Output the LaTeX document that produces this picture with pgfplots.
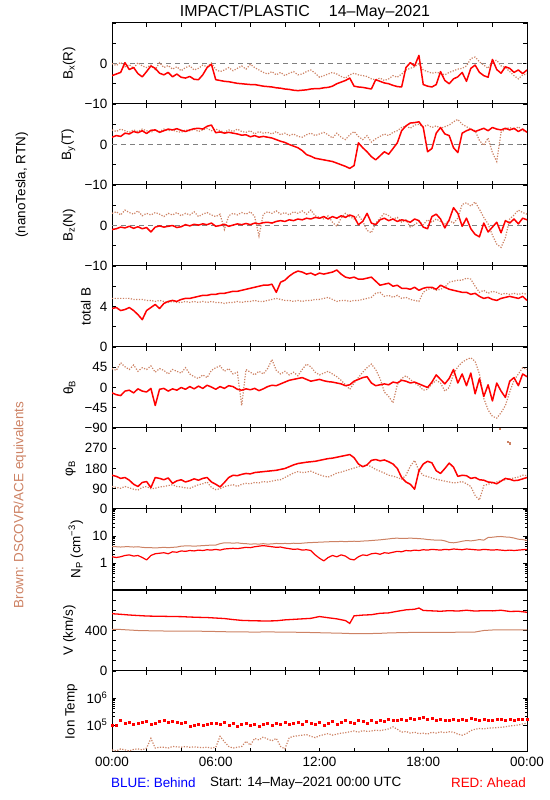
\documentclass[border=0pt]{standalone}
\usepackage{fontspec}
\setmainfont{Liberation Sans}
\usepackage{pgfplots}
\usepackage{pgfplotstable}
\pgfplotsset{compat=1.18}
\definecolor{brn}{RGB}{205,130,100}
\definecolor{rd}{RGB}{255,0,0}
\definecolor{zl}{RGB}{128,128,128}

% Bx(R): h, red (Ahead), brown (DSCOVR/ACE)
\pgfplotstableread{
h r b
0.00 -3.0 0.0
0.25 -2.6 -0.5
0.50 -2.2 0.3
0.75 0.2 -0.8
1.00 -1.5 -0.3
1.25 -1.0 -1.2
1.50 -2.5 0.2
1.75 -3.3 -0.6
2.00 -2.0 -1.0
2.25 -0.6 -0.4
2.50 -1.2 -1.5
2.75 -2.4 0.2
3.00 -2.8 -1.0
3.25 -2.2 -0.5
3.50 -3.3 -1.4
3.75 -2.6 -0.8
4.00 -3.4 -1.8
4.25 -3.6 -1.0
4.50 -3.2 -0.6
4.75 -3.9 -1.6
5.00 -4.0 -1.2
5.25 -2.8 -0.4
5.50 -1.0 -0.8
5.75 -0.2 0.1
6.00 -4.0 -1.5
6.25 -4.2 -2.0
6.50 -4.4 -1.6
6.75 -4.5 -1.0
7.00 -4.7 -1.8
7.25 -4.9 -1.2
7.50 -5.0 -0.6
7.75 -5.1 -1.4
8.00 -5.2 -0.2
8.25 -5.2 -1.0
8.50 -5.4 -1.6
8.75 -5.6 -2.2
9.00 -5.7 -2.6
9.25 -5.8 -2.0
9.50 -6.0 -2.8
9.75 -6.1 -2.2
10.00 -6.3 -3.0
10.25 -6.4 -2.4
10.50 -6.6 -2.0
10.75 -6.7 -2.8
11.00 -6.6 -2.6
11.25 -6.5 -2.0
11.50 -6.3 -1.6
11.75 -6.2 -2.4
12.00 -6.2 -3.4
12.25 -6.0 -3.0
12.50 -5.9 -2.6
12.75 -5.6 -2.2
13.00 -5.0 -2.6
13.25 -4.6 -3.2
13.50 -4.2 -3.6
13.75 -3.6 -2.8
14.00 -5.6 -2.4
14.25 -5.8 -2.8
14.50 -5.9 -3.0
14.75 -6.1 -3.2
15.00 -6.3 -3.8
15.25 -4.0 -4.0
15.50 -4.4 -3.6
15.75 -4.8 -4.2
16.00 -5.0 -3.8
16.25 -5.4 -3.0
16.50 -5.7 -3.4
16.75 -5.8 -2.6
17.00 -1.0 -1.6
17.25 0.2 -1.2
17.50 -0.6 -0.8
17.75 2.0 0.0
18.00 -5.2 -1.6
18.25 -5.6 -2.0
18.50 -5.8 -2.4
18.75 -5.2 -2.2
19.00 -2.0 -2.4
19.25 -4.2 -2.8
19.50 -5.0 -2.2
19.75 -3.8 -1.8
20.00 -3.3 -1.4
20.25 -2.2 -1.2
20.50 -4.4 -0.6
20.75 -1.2 1.2
21.00 -0.4 1.6
21.25 -2.2 0.4
21.50 -3.0 -0.4
21.75 -3.4 -1.2
22.00 1.0 0.6
22.25 -1.5 0.8
22.50 -2.4 -0.6
22.75 -0.8 -1.0
23.00 -1.2 -2.0
23.25 -2.2 -3.0
23.50 -1.6 -3.8
23.75 -2.5 -2.8
24.00 -1.6 -2.6
}\tbx

\pgfplotstableread{
h r b
0.00 1.8 3.6
0.25 2.2 3.2
0.50 2.0 3.8
0.75 2.8 3.4
1.00 2.6 3.0
1.25 3.2 3.6
1.50 2.9 3.2
1.75 3.4 3.8
2.00 2.7 3.4
2.25 3.5 3.0
2.50 3.6 3.6
2.75 3.0 3.2
3.00 3.4 3.8
3.25 3.8 3.4
3.50 3.6 3.6
3.75 3.9 3.2
4.00 3.5 3.0
4.25 3.2 3.6
4.50 3.6 3.4
4.75 3.9 3.8
5.00 4.0 3.2
5.25 3.8 3.6
5.50 4.5 4.0
5.75 4.8 3.4
6.00 2.9 3.8
6.25 3.1 3.4
6.50 2.8 3.0
6.75 3.0 3.6
7.00 2.8 3.2
7.25 2.6 3.8
7.50 2.3 3.2
7.75 2.4 3.0
8.00 1.9 3.4
8.25 2.2 2.6
8.50 1.8 3.2
8.75 2.0 2.8
9.00 1.8 3.0
9.25 1.6 2.6
9.50 1.2 3.2
9.75 0.8 2.4
10.00 0.5 2.8
10.25 0.0 2.2
10.50 -0.4 2.6
10.75 -0.8 2.0
11.00 -1.5 1.8
11.25 -2.5 2.4
11.50 -2.9 2.8
11.75 -3.4 2.2
12.00 -3.6 2.6
12.25 -3.8 3.0
12.50 -4.0 2.4
12.75 -4.2 1.6
13.00 -4.6 2.8
13.25 -5.0 1.8
13.50 -5.4 1.2
13.75 -5.9 2.4
14.00 -5.2 3.2
14.25 0.4 2.0
14.50 -0.8 1.2
14.75 -1.8 2.2
15.00 -3.0 0.6
15.25 -3.8 1.4
15.50 -2.8 2.0
15.75 -1.8 2.6
16.00 -2.4 2.2
16.25 -1.0 3.0
16.50 0.4 3.4
16.75 3.4 4.2
17.00 4.6 4.6
17.25 5.3 4.0
17.50 5.4 4.8
17.75 5.6 5.0
18.00 4.2 4.4
18.25 -1.8 4.8
18.50 -1.0 4.2
18.75 2.8 4.6
19.00 4.2 4.0
19.25 2.6 4.4
19.50 2.2 4.8
19.75 -0.8 5.6
20.00 -2.0 6.2
20.25 2.8 5.0
20.50 3.4 4.4
20.75 3.8 3.8
21.00 3.2 3.4
21.25 3.6 1.0
21.50 4.0 -0.2
21.75 3.4 1.6
22.00 4.2 -2.0
22.25 3.8 -4.2
22.50 3.6 3.0
22.75 4.0 3.8
23.00 3.6 4.2
23.25 4.0 3.6
23.50 3.2 4.4
23.75 3.8 3.4
24.00 3.0 3.2
}\tby

\pgfplotstableread{
h r b
0.00 -1.0 3.0
0.25 -0.8 3.4
0.50 -0.4 2.6
0.75 -0.6 3.8
1.00 -0.2 3.2
1.25 -0.7 2.8
1.50 -0.3 3.6
1.75 -0.8 2.4
2.00 -0.5 3.0
2.25 -1.6 2.6
2.50 -0.4 3.2
2.75 -0.1 2.8
3.00 -0.4 2.2
3.25 -0.2 3.0
3.50 0.0 2.6
3.75 -0.5 3.2
4.00 -0.3 2.4
4.25 0.2 3.0
4.50 -0.1 2.6
4.75 0.3 3.4
5.00 0.1 2.2
5.25 0.4 2.8
5.50 0.2 3.2
5.75 0.6 2.6
6.00 -0.2 2.2
6.25 0.0 2.8
6.50 0.3 -1.0
6.75 -0.2 2.4
7.00 0.1 3.0
7.25 0.4 2.6
7.50 0.2 3.2
7.75 0.5 2.8
8.00 0.2 3.4
8.25 0.6 2.2
8.50 0.4 -2.6
8.75 0.7 2.8
9.00 0.8 3.4
9.25 0.6 3.0
9.50 1.0 3.6
9.75 1.2 2.8
10.00 1.0 3.2
10.25 1.4 2.6
10.50 1.2 3.4
10.75 1.6 3.0
11.00 1.4 3.6
11.25 1.8 2.8
11.50 1.6 3.8
11.75 2.0 2.4
12.00 1.8 2.0
12.25 2.2 1.6
12.50 1.6 2.4
12.75 2.2 0.8
13.00 1.8 -0.2
13.25 2.4 1.8
13.50 2.0 3.0
13.75 2.6 2.2
14.00 2.2 1.6
14.25 0.2 2.6
14.50 1.0 1.0
14.75 3.0 -1.2
15.00 0.6 -1.8
15.25 0.2 0.6
15.50 1.4 1.8
15.75 1.8 3.0
16.00 1.2 2.4
16.25 1.6 1.6
16.50 1.0 2.0
16.75 1.4 0.8
17.00 1.2 1.4
17.25 0.8 -0.4
17.50 1.6 0.2
17.75 1.2 1.0
18.00 -0.4 0.2
18.25 -0.8 1.4
18.50 2.2 0.8
18.75 2.8 1.6
19.00 1.6 1.0
19.25 -0.6 0.4
19.50 1.4 1.2
19.75 4.4 0.6
20.00 3.0 1.8
20.25 -0.2 5.2
20.50 1.8 5.6
20.75 -0.8 4.8
21.00 -2.2 5.8
21.25 -2.8 4.0
21.50 0.6 2.0
21.75 -1.6 0.4
22.00 -0.4 -2.4
22.25 0.8 -4.6
22.50 -1.8 -5.4
22.75 1.2 -3.0
23.00 0.6 1.6
23.25 1.6 2.6
23.50 0.4 3.8
23.75 1.8 3.2
24.00 1.4 2.8
}\tbz

\pgfplotstableread{
h r b
0.00 3.8 4.8
0.25 3.9 4.8
0.50 3.6 4.8
0.75 3.7 4.8
1.00 3.9 4.8
1.25 3.6 4.7
1.50 3.2 4.7
1.75 2.7 4.7
2.00 3.6 4.6
2.25 3.9 4.6
2.50 4.2 4.5
2.75 3.8 4.6
3.00 4.3 4.5
3.25 4.5 4.4
3.50 4.6 4.5
3.75 4.5 4.4
4.00 4.7 4.4
4.25 4.8 4.5
4.50 4.8 4.4
4.75 4.9 4.5
5.00 5.0 4.4
5.25 5.1 4.5
5.50 5.1 4.4
5.75 5.2 4.5
6.00 5.2 4.4
6.25 5.3 4.4
6.50 5.3 4.3
6.75 5.4 4.4
7.00 5.5 4.4
7.25 5.5 4.5
7.50 5.6 4.4
7.75 5.7 4.5
8.00 5.8 4.5
8.25 5.9 4.6
8.50 6.0 4.5
8.75 6.1 4.5
9.00 6.1 4.6
9.25 6.2 4.7
9.50 5.4 4.8
9.75 6.4 4.7
10.00 6.6 4.6
10.25 7.0 4.6
10.50 7.3 4.5
10.75 7.5 4.6
11.00 7.4 4.5
11.25 7.2 4.6
11.50 7.3 4.6
11.75 7.1 4.7
12.00 7.3 4.7
12.25 7.2 4.8
12.50 7.3 4.9
12.75 7.4 4.7
13.00 7.6 4.5
13.25 7.2 4.6
13.50 6.9 4.6
13.75 6.8 4.5
14.00 6.9 4.6
14.25 6.7 4.6
14.50 6.7 4.7
14.75 6.8 4.8
15.00 6.9 4.9
15.25 6.5 5.3
15.50 6.1 5.4
15.75 6.2 5.0
16.00 6.3 5.1
16.25 6.0 4.9
16.50 6.1 5.1
16.75 5.8 4.8
17.00 5.8 4.9
17.25 5.7 4.7
17.50 5.9 4.6
17.75 5.6 4.5
18.00 5.8 5.4
18.25 5.9 5.7
18.50 5.9 5.8
18.75 5.7 5.6
19.00 6.1 5.7
19.25 5.9 5.9
19.50 5.7 6.4
19.75 5.6 6.5
20.00 5.5 6.6
20.25 5.4 6.6
20.50 5.4 6.8
20.75 5.2 6.7
21.00 5.3 6.0
21.25 5.0 5.4
21.50 4.8 5.6
21.75 4.9 5.3
22.00 4.7 5.5
22.25 4.6 5.4
22.50 4.8 5.2
22.75 4.9 5.3
23.00 5.0 5.2
23.25 4.9 5.3
23.50 4.8 5.2
23.75 5.0 5.3
24.00 4.6 5.2
}\ttot

\pgfplotstableread{
h r b
0.00 -12 42
0.25 -16 38
0.50 -18 55
0.75 -8 46
1.00 -6 40
1.25 -12 50
1.50 -3 36
1.75 -8 44
2.00 -10 40
2.25 -2 48
2.50 -40 34
2.75 -4 42
3.00 -2 38
3.25 -8 30
3.50 -3 40
3.75 -6 36
4.00 0 32
4.25 -4 44
4.50 2 30
4.75 -3 24
5.00 3 20
5.25 -2 28
5.50 5 22
5.75 1 38
6.00 -4 44
6.25 2 48
6.50 -2 36
6.75 4 42
7.00 2 30
7.25 -4 34
7.50 -6 -40
7.75 -3 40
8.00 -5 34
8.25 -2 28
8.50 -7 36
8.75 -3 30
9.00 2 42
9.25 5 62
9.50 4 38
9.75 8 30
10.00 12 36
10.25 16 28
10.50 18 34
10.75 20 26
11.00 22 40
11.25 18 52
11.50 14 46
11.75 16 34
12.00 18 28
12.25 15 32
12.50 13 36
12.75 12 30
13.00 10 24
13.25 8 16
13.50 4 6
13.75 6 -4
14.00 14 10
14.25 18 22
14.50 22 34
14.75 24 44
15.00 10 52
15.25 4 40
15.50 6 20
15.75 8 -10
16.00 6 -20
16.25 12 -34
16.50 10 6
16.75 16 20
17.00 14 26
17.25 10 18
17.50 12 10
17.75 8 4
18.00 4 -6
18.25 0 -4
18.50 12 8
18.75 28 16
19.00 18 10
19.25 8 -8
19.50 20 0
19.75 40 30
20.00 10 46
20.25 30 56
20.50 4 62
20.75 32 66
21.00 -14 58
21.25 20 30
21.50 -20 -24
21.75 6 -50
22.00 -30 -64
22.25 10 -68
22.50 -8 -56
22.75 -22 -40
23.00 14 -10
23.25 22 16
23.50 4 30
23.75 30 44
24.00 24 40
}\tth

\pgfplotstableread{
h r b
0.00 150 100
0.25 145 96
0.50 136 92
0.75 140 100
1.00 128 94
1.25 110 88
1.50 100 84
1.75 118 96
2.00 122 100
2.25 95 90
2.50 140 92
2.75 136 98
3.00 130 100
3.25 138 104
3.50 114 108
3.75 125 100
4.00 130 98
4.25 120 94
4.50 126 92
4.75 134 100
5.00 128 108
5.25 136 112
5.50 140 120
5.75 120 96
6.00 110 86
6.25 98 90
6.50 118 100
6.75 140 104
7.00 150 108
7.25 148 100
7.50 154 110
7.75 158 114
8.00 156 112
8.25 162 118
8.50 164 116
8.75 166 122
9.00 168 120
9.25 170 124
9.50 172 128
9.75 176 130
10.00 180 140
10.25 188 150
10.50 196 160
10.75 202 166
11.00 205 162
11.25 208 164
11.50 210 168
11.75 212 160
12.00 216 152
12.25 220 146
12.50 224 142
12.75 226 150
13.00 230 160
13.25 234 164
13.50 238 170
13.75 242 176
14.00 228 182
14.25 200 188
14.50 188 192
14.75 196 195
15.00 216 188
15.25 220 176
15.50 214 168
15.75 218 160
16.00 210 150
16.25 200 146
16.50 180 140
16.75 140 132
17.00 120 150
17.25 110 190
17.50 88 216
17.75 170 170
18.00 200 150
18.25 212 144
18.50 205 138
18.75 170 132
19.00 158 128
19.25 180 124
19.50 204 120
19.75 186 116
20.00 145 118
20.25 150 122
20.50 148 112
20.75 136 100
21.00 140 60
21.25 130 40
21.50 128 104
21.75 120 110
22.00 118 116
22.25 112 120
22.50 124 126
22.75 136 130
23.00 132 134
23.25 126 138
23.50 128 142
23.75 134 150
24.00 140 148
}\tph

\pgfplotstableread{
h r b
0.00 1.7 4.0
0.25 1.6 4.0
0.50 1.7 3.9
0.75 1.9 4.0
1.00 2.0 4.0
1.25 1.8 3.9
1.50 1.9 4.0
1.75 1.6 3.8
2.00 1.3 3.7
2.25 1.9 3.7
2.50 2.2 3.6
2.75 2.3 3.7
3.00 2.4 3.8
3.25 2.2 3.7
3.50 2.6 3.8
3.75 2.5 3.9
4.00 2.8 4.2
4.25 2.7 4.3
4.50 2.9 4.3
4.75 2.8 4.2
5.00 3.0 4.3
5.25 2.9 4.4
5.50 3.1 4.5
5.75 3.0 4.6
6.00 3.2 4.6
6.25 3.0 5.2
6.50 3.3 5.6
6.75 3.4 5.6
7.00 3.5 5.4
7.25 3.4 5.6
7.50 3.6 5.3
7.75 3.8 5.2
8.00 3.7 5.0
8.25 4.0 5.1
8.50 4.2 5.0
8.75 4.4 5.2
9.00 4.2 5.0
9.25 4.0 5.1
9.50 3.8 5.3
9.75 3.9 5.2
10.00 3.6 5.3
10.25 3.4 5.2
10.50 3.2 5.4
10.75 3.3 5.3
11.00 3.0 5.4
11.25 3.1 5.6
11.50 2.9 5.7
11.75 2.0 5.8
12.00 1.5 5.9
12.25 1.2 6.0
12.50 1.6 6.1
12.75 1.9 6.2
13.00 1.7 6.2
13.25 2.0 6.3
13.50 1.8 6.2
13.75 1.4 6.3
14.00 1.3 6.4
14.25 1.7 6.3
14.50 2.0 6.5
14.75 1.9 6.6
15.00 2.2 6.8
15.25 2.3 7.0
15.50 2.1 7.2
15.75 2.4 7.5
16.00 2.3 7.8
16.25 2.5 8.2
16.50 2.7 8.3
16.75 2.6 8.1
17.00 2.9 8.2
17.25 2.8 8.3
17.50 3.0 8.2
17.75 2.9 8.0
18.00 3.1 7.8
18.25 3.0 7.4
18.50 3.2 7.2
18.75 3.1 7.0
19.00 3.0 7.1
19.25 3.2 6.6
19.50 3.1 5.8
19.75 3.3 5.6
20.00 3.2 5.9
20.25 3.1 6.4
20.50 3.3 6.8
20.75 3.2 6.6
21.00 3.1 6.9
21.25 3.0 7.4
21.50 3.2 7.0
21.75 3.1 8.8
22.00 3.0 9.0
22.25 3.1 9.4
22.50 3.0 9.6
22.75 2.9 9.2
23.00 3.0 9.0
23.25 2.9 8.4
23.50 3.0 7.6
23.75 3.1 7.4
24.00 3.2 6.8
}\tnp

\pgfplotstableread{
h r b
0.00 566 412
0.50 560 410
1.00 553 405
1.50 548 400
2.00 543 398
2.50 541 396
3.00 540 395
3.50 538 395
4.00 537 394
4.50 533 394
5.00 530 393
5.50 528 392
6.00 523 390
6.50 518 388
7.00 508 386
7.50 500 386
8.00 497 385
8.50 495 385
9.00 494 386
9.50 496 385
10.00 505 384
10.50 510 383
11.00 515 382
11.50 520 380
12.00 538 378
12.25 532 377
12.50 526 376
13.00 515 374
13.50 498 372
13.75 470 370
14.00 545 368
14.50 552 368
15.00 556 370
15.50 570 372
16.00 574 376
16.50 590 378
17.00 604 380
17.50 610 381
17.75 622 381
18.00 598 382
18.50 594 382
19.00 590 382
19.50 596 382
20.00 592 383
20.50 600 383
21.00 592 385
21.50 596 400
22.00 594 405
22.50 600 406
23.00 588 407
23.50 590 407
24.00 580 406
}\tv

\pgfplotstableread{
h r b
0.00 9.8e4 1.2e4
0.25 1.0e5 1.1e4
0.50 1.5e5 1.3e4
0.75 1.2e5 1.2e4
1.00 1.3e5 1.1e4
1.25 1.1e5 1.25e4
1.50 1.2e5 1.3e4
1.75 1.25e5 1.2e4
2.00 1.4e5 1.4e4
2.25 1.1e5 3.2e4
2.50 1.2e5 1.4e4
2.75 1.35e5 1.5e4
3.00 1.45e5 1.5e4
3.25 1.3e5 1.4e4
3.50 1.4e5 1.6e4
3.75 1.25e5 1.55e4
4.00 1.2e5 1.5e4
4.25 1.3e5 1.6e4
4.50 8.8e4 1.5e4
4.75 1.0e5 1.55e4
5.00 1.1e5 1.5e4
5.25 9.5e4 1.45e4
5.50 1.05e5 1.5e4
5.75 1.15e5 1.4e4
6.00 1.2e5 1.5e4
6.25 1.1e5 3.8e4
6.50 1.3e5 2.4e4
6.75 1.0e5 1.6e4
7.00 1.15e5 1.4e4
7.25 9.0e4 1.5e4
7.50 1.05e5 1.6e4
7.75 1.2e5 2.5e4
8.00 1.0e5 1.8e4
8.25 1.1e5 3.2e4
8.50 9.2e4 2.8e4
8.75 1.05e5 3.6e4
9.00 1.15e5 3.0e4
9.25 1.0e5 2.6e4
9.50 1.2e5 3.2e4
9.75 1.05e5 1.6e4
10.00 1.25e5 1.3e4
10.25 1.1e5 3.4e4
10.50 1.2e5 3.8e4
10.75 1.3e5 4.0e4
11.00 1.1e5 4.2e4
11.25 1.35e5 4.4e4
11.50 1.2e5 3.8e4
11.75 1.1e5 3.4e4
12.00 1.3e5 4.0e4
12.25 9.5e4 4.4e4
12.50 1.2e5 4.8e4
12.75 1.35e5 4.2e4
13.00 1.1e5 4.6e4
13.25 1.25e5 5.0e4
13.50 1.5e5 5.2e4
13.75 1.3e5 5.6e4
14.00 1.2e5 6.0e4
14.25 1.45e5 5.4e4
14.50 1.35e5 6.2e4
14.75 1.2e5 5.8e4
15.00 1.5e5 6.0e4
15.25 1.3e5 6.4e4
15.50 1.55e5 6.2e4
15.75 1.4e5 6.6e4
16.00 1.6e5 7.2e4
16.25 1.45e5 8.5e4
16.50 1.55e5 7.0e4
16.75 1.7e5 5.4e4
17.00 1.5e5 5.8e4
17.25 1.85e5 5.0e4
17.50 1.6e5 5.4e4
17.75 1.75e5 4.8e4
18.00 1.95e5 5.0e4
18.25 1.6e5 4.6e4
18.50 1.75e5 5.4e4
18.75 1.5e5 5.0e4
19.00 1.7e5 5.6e4
19.25 1.55e5 5.2e4
19.50 1.45e5 5.6e4
19.75 1.65e5 5.4e4
20.00 1.5e5 4.6e4
20.25 1.7e5 4.2e4
20.50 1.55e5 4.8e4
20.75 1.8e5 6.2e4
21.00 1.6e5 7.0e4
21.25 1.5e5 7.4e4
21.50 1.65e5 7.2e4
21.75 1.55e5 7.6e4
22.00 1.5e5 7.8e4
22.25 1.7e5 8.0e4
22.50 1.6e5 8.2e4
22.75 1.5e5 8.6e4
23.00 1.7e5 9.2e4
23.25 1.55e5 9.6e4
23.50 1.65e5 1.0e5
23.75 1.6e5 1.1e5
24.00 1.7e5 1.15e5
}\tt

\pgfplotsset{
  panel/.style={
    width=415bp, height=81bp, scale only axis,
    anchor=south west,
    xmin=0, xmax=24,
    xtick={0,2,...,24}, xticklabels={},
    tick align=inside,
    major tick length=4bp, minor tick length=2.5bp,
    axis line style={line width=1bp},
    every tick/.style={black, line width=0.8bp},
    tick label style={font=\fontsize{13.5}{15}\selectfont},
    label style={font=\fontsize{13.5}{15}\selectfont},
    every axis y label/.style={at={(ticklabel cs:0.5)}, rotate=90, anchor=near ticklabel},
    clip=true,
  },
  redline/.style={draw=rd, line width=1.5bp, line join=round, no marks},
  brnmk/.style={draw=brn, line width=1.2bp, dash pattern=on 1.2bp off 1.5bp, no marks},
  zline/.style={draw=zl, dash pattern=on 5bp off 4bp, line width=0.7bp},
}

\begin{document}
\fontsize{13.5}{16}\selectfont
\begin{tikzpicture}
\path (0,0) rectangle (550bp,800bp);

% 1: Bx
\begin{axis}[panel, at={(112bp,696bp)}, ymin=-10, ymax=10,
  ytick={-10,-5,0,5,10}, yticklabels={−10,,0,,}, ylabel={B\textsubscript{x}(R)}]
\addplot[zline] coordinates {(0,0) (24,0)};
\addplot[brnmk] table[x=h,y=b] {\tbx};
\addplot[redline] table[x=h,y=r] {\tbx};
\end{axis}

% 2: By
\begin{axis}[panel, at={(112bp,615bp)}, ymin=-10, ymax=10,
  ytick={-10,-5,0,5,10}, yticklabels={−10,,0,,}, ylabel={B\textsubscript{y}(T)}]
\addplot[zline] coordinates {(0,0) (24,0)};
\addplot[brnmk] table[x=h,y=b] {\tby};
\addplot[redline] table[x=h,y=r] {\tby};
\end{axis}

% 3: Bz
\begin{axis}[panel, at={(112bp,534bp)}, ymin=-10, ymax=10,
  ytick={-10,-5,0,5,10}, yticklabels={−10,,0,,}, ylabel={B\textsubscript{z}(N)}]
\addplot[zline] coordinates {(0,0) (24,0)};
\addplot[brnmk] table[x=h,y=b] {\tbz};
\addplot[redline] table[x=h,y=r] {\tbz};
\end{axis}

% 4: total B
\begin{axis}[panel, at={(112bp,453bp)}, ymin=0, ymax=8,
  ytick={0,2,4,6,8}, yticklabels={0,,4,,}, ylabel={total B}]
\addplot[brnmk] table[x=h,y=b] {\ttot};
\addplot[redline] table[x=h,y=r] {\ttot};
\end{axis}

% 5: theta
\begin{axis}[panel, at={(112bp,372bp)}, ymin=-90, ymax=90,
  ytick={-90,-45,0,45,90}, yticklabels={−90,−45,0,45,}, ylabel={θ\textsubscript{B}}]
\addplot[brnmk] table[x=h,y=b] {\tth};
\addplot[redline] table[x=h,y=r] {\tth};
\end{axis}

% 6: phi
\begin{axis}[panel, at={(112bp,291bp)}, ymin=0, ymax=360,
  ytick={0,90,180,270,360}, yticklabels={0,90,180,270,}, ylabel={φ\textsubscript{B}}]
\addplot[brnmk] table[x=h,y=b] {\tph};
\addplot[only marks, mark=square*, mark size=0.6bp, color=brn] coordinates {(22.4,356) (22.9,300) (23.0,292)};
\addplot[redline] table[x=h,y=r] {\tph};
\end{axis}

% 7: Np
\begin{axis}[panel, at={(112bp,210bp)}, ymode=log, ymin=0.1, ymax=100,
  ytick={1,10}, yticklabels={1,10},
  minor ytick={0.2,0.3,0.4,0.5,0.6,0.7,0.8,0.9,2,3,4,5,6,7,8,9,20,30,40,50,60,70,80,90},
  ylabel={N\textsubscript{P} (cm\textsuperscript{−3})}]
\addplot[draw=brn, line width=1bp, no marks] table[x=h,y=b] {\tnp};
\addplot[draw=rd, line width=1.2bp, line join=round, no marks] table[x=h,y=r] {\tnp};
\end{axis}

% 8: V
\begin{axis}[panel, at={(112bp,129bp)}, ymin=0, ymax=800,
  ytick={0,100,...,800}, yticklabels={0,,,,400,,,,}, ylabel={V (km/s)}]
\addplot[draw=brn, line width=1bp, no marks] table[x=h,y=b] {\tv};
\addplot[draw=rd, line width=1.3bp, no marks] table[x=h,y=r] {\tv};
\end{axis}

% 9: Ion Temp
\begin{axis}[panel, at={(112bp,48bp)}, ymode=log, ymin=1e4, ymax=1e7,
  ytick={1e5,1e6}, yticklabels={10\textsuperscript{5},10\textsuperscript{6}},
  ylabel={Ion Temp},
  xticklabels={00:00,,,06:00,,,12:00,,,18:00,,,00:00}]
\addplot[brnmk] table[x=h,y=b] {\tt};
\addplot[only marks, mark=square*, mark size=1bp, color=rd] table[x=h,y=r] {\tt};
\end{axis}

% texts
\node[font=\fontsize{16}{18}\selectfont] at (305bp,788bp) {IMPACT/PLASTIC\hspace{1.2em}14–May–2021};
\node[rotate=90] at (22bp,615bp) {(nanoTesla,\ RTN)};
\node[rotate=90, text=brn] at (20bp,295bp) {Brown:\ DSCOVR/ACE\ equivalents};
\node[anchor=west, text=blue, inner sep=0pt] at (111bp,17bp) {BLUE: Behind};
\node[anchor=west, inner sep=0pt] at (210bp,17bp) {Start: 14–May–2021 00:00 UTC};
\node[anchor=east, text=rd, inner sep=0pt] at (526bp,17bp) {RED: Ahead};
\end{tikzpicture}
\end{document}
